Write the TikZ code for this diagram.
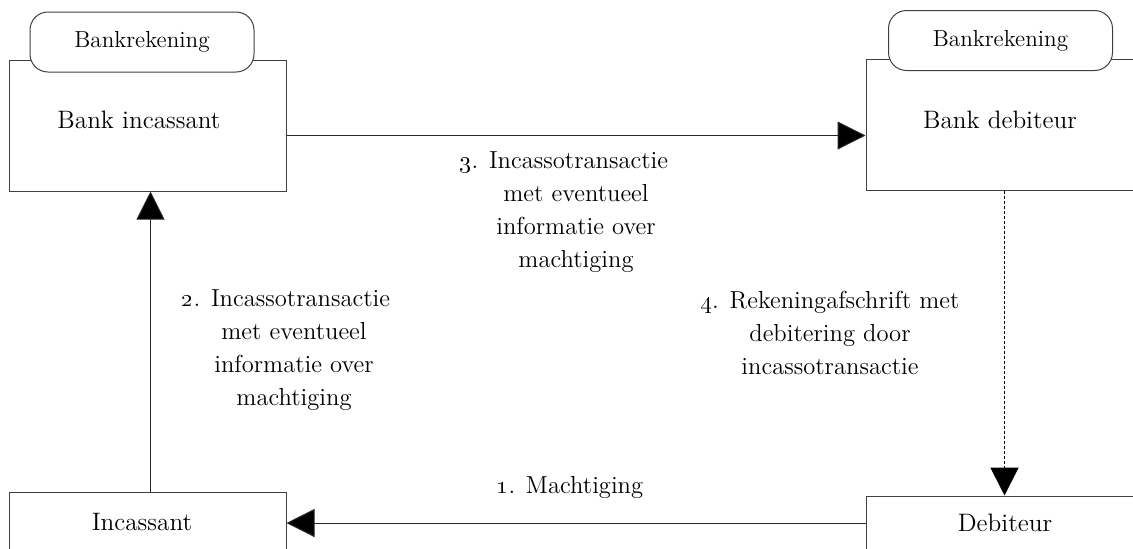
\documentclass[tikz,border=0pt]{standalone}
\usetikzlibrary{arrows.meta}
\begin{document}
\begin{tikzpicture}[x=0.5pt, y=-0.5pt,
  box/.style={draw=black!75, line width=0.5pt, minimum width=138.5pt, minimum height=65.5pt, inner sep=0pt},
  tab/.style={draw=black!75, fill=white, rounded corners=9pt, line width=0.5pt, minimum width=112pt, minimum height=30pt, inner sep=0pt, font=\fontsize{11.6}{13}\selectfont},
  txt/.style={font=\fontsize{12.6}{16.5}\selectfont, inner sep=0pt},
  lbl/.style={font=\fontsize{12.3}{16.5}\selectfont, align=center, inner sep=0pt},
  arr/.style={-{Triangle[length=14pt, width=14pt, fill=black]}, draw=black!85, line width=0.5pt}]
\useasboundingbox (0,0) rectangle (1133,548);
\clip (0,0) rectangle (1133,548);
% banks
\node[box] (bi) at (147.5,125.5) {};
\node[tab] (tabi) at (142,42) {Bankrekening};
\node[txt] (bit) at (139,120) {Bank incassant};
\node[box] (bd) at (1004.5,124.5) {};
\node[tab] (tabd) at (1000.5,40.5) {Bankrekening};
\node[txt] (bdt) at (1000,120) {Bank debiteur};
% parties
\node[box] (inc) at (147.5,557.5) {};
\node[txt] (inct) at (142,522) {Incassant};
\node[box] (deb) at (1004.5,561.5) {};
\node[txt] (debt) at (1005,523) {Debiteur};
% flows
\draw[arr] (debt -| deb.west) -- (debt -| inc.east);
\draw[arr] ([xshift=1.5pt]inc.north) -- ([xshift=1.5pt]inc.north |- bi.south);
\draw[arr] ([yshift=-5pt]bi.east) -- ([yshift=-5pt]bi.east -| bd.west);
\draw[arr, draw=black, line width=0.9pt, dash pattern=on 1.5pt off 1pt] (bd.south) -- (deb.north);
% labels
\node[lbl] (l1) at (570,487) {\oldstylenums{1}. Machtiging};
\node[lbl] (l2) at (294,350) {\oldstylenums{2}. Incassotransactie\hbox to 8pt{}\\ met eventueel\\ informatie over\\ machtiging};
\node[lbl] (l3) at (576,212) {\oldstylenums{3}. Incassotransactie\hbox to 12pt{}\\ met eventueel\\ informatie over\\ machtiging};
\node[lbl] (l4) at (830,333) {\oldstylenums{4}. Rekeningafschrift met\\ debitering door\\ incassotransactie};
\end{tikzpicture}
\end{document}
